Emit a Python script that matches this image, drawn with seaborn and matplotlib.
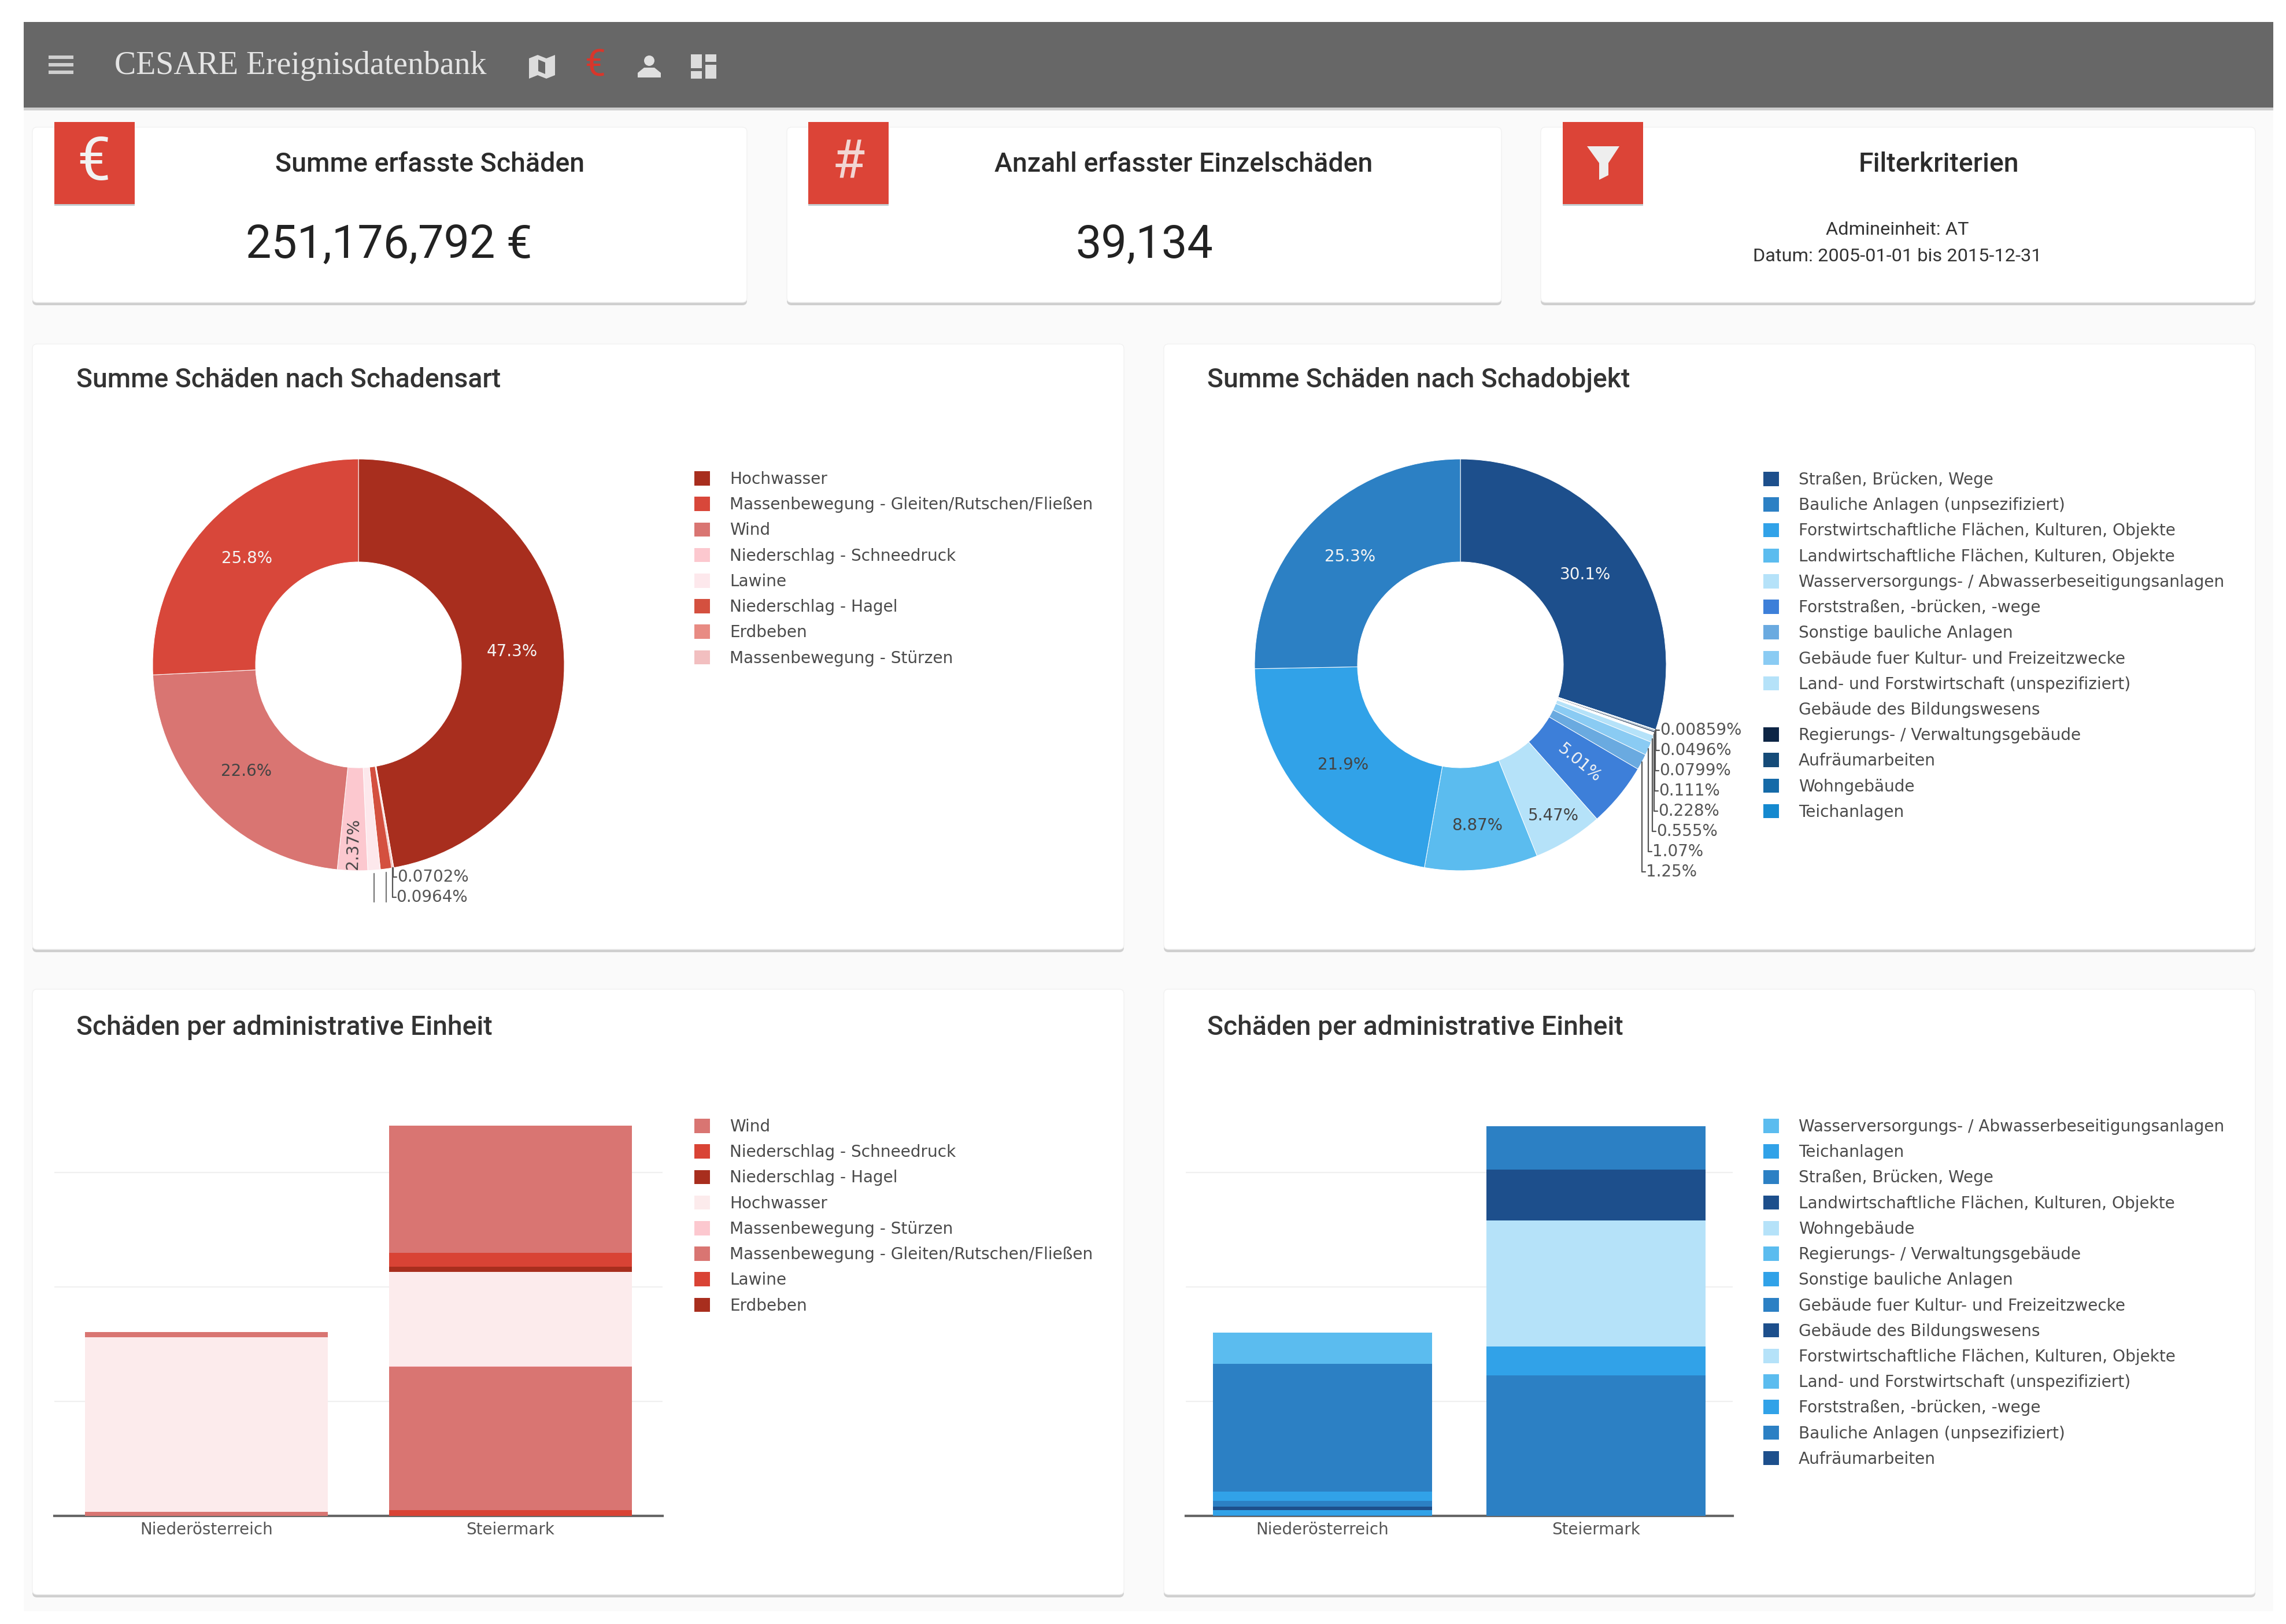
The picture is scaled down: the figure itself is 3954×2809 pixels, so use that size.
import matplotlib
matplotlib.use('Agg')
import matplotlib.pyplot as plt
from matplotlib.colors import to_rgb
from matplotlib.patches import FancyBboxPatch, Patch, Polygon, Rectangle, Circle
import numpy as np
import seaborn as sns

# damage type donut, clockwise order is built below
art_names = ['Hochwasser', 'Massenbewegung - Gleiten/Rutschen/Fließen', 'Wind', 'Niederschlag - Schneedruck',
             'Lawine', 'Niederschlag - Hagel', 'Erdbeben', 'Massenbewegung - Stürzen']
art_values = [47.3, 25.8, 22.6, 2.37, 0.98, 0.88, 0.0964, 0.0702]
art_colors = ['#a82e1e', '#d8473a', '#d97572', '#fcc8cf', '#fde8ec', '#d4503f', '#e88b83', '#f2bfc0']

# damaged object donut
objekt_names = ['Straßen, Brücken, Wege', 'Bauliche Anlagen (unpsezifiziert)',
                'Forstwirtschaftliche Flächen, Kulturen, Objekte', 'Landwirtschaftliche Flächen, Kulturen, Objekte',
                'Wasserversorgungs- / Abwasserbeseitigungsanlagen', 'Forststraßen, -brücken, -wege',
                'Sonstige bauliche Anlagen', 'Gebäude fuer Kultur- und Freizeitzwecke',
                'Land- und Forstwirtschaft (unspezifiziert)', 'Gebäude des Bildungswesens',
                'Regierungs- / Verwaltungsgebäude', 'Aufräumarbeiten', 'Wohngebäude', 'Teichanlagen']
objekt_values = [30.1, 25.3, 21.9, 8.87, 5.47, 5.01, 1.25, 1.07, 0.555, 0.228, 0.111, 0.0799, 0.0496, 0.00859]
objekt_colors = ['#1d4f8c', '#2c80c4', '#31a2e8', '#5bbcef', '#b5e2f9', '#3d7fd9', '#6aaae0', '#8acbf3',
                 '#b5e2f9', '#ffffff', '#0d2545', '#154b78', '#156aa8', '#1589cf']

regions = ['Niederösterreich', 'Steiermark']

# stacks in million euro, legend order (top of the stack first)
art_stack_names = ['Wind', 'Niederschlag - Schneedruck', 'Niederschlag - Hagel', 'Hochwasser',
                   'Massenbewegung - Stürzen', 'Massenbewegung - Gleiten/Rutschen/Fließen', 'Lawine', 'Erdbeben']
art_stack_noe = [2.05, 0, 0, 76.4, 0, 1.7, 0, 0]
art_stack_stmk = [55.6, 6.0, 2.2, 41.2, 0.2, 62.8, 2.4, 0]
art_stack_colors = ['#d97572', '#d94335', '#a82e1e', '#fcebec', '#fcc8cf', '#d97572', '#d94335', '#a82e1e']

objekt_stack_names = ['Wasserversorgungs- / Abwasserbeseitigungsanlagen', 'Teichanlagen', 'Straßen, Brücken, Wege',
                      'Landwirtschaftliche Flächen, Kulturen, Objekte', 'Wohngebäude',
                      'Regierungs- / Verwaltungsgebäude', 'Sonstige bauliche Anlagen',
                      'Gebäude fuer Kultur- und Freizeitzwecke', 'Gebäude des Bildungswesens',
                      'Forstwirtschaftliche Flächen, Kulturen, Objekte', 'Land- und Forstwirtschaft (unspezifiziert)',
                      'Forststraßen, -brücken, -wege', 'Bauliche Anlagen (unpsezifiziert)', 'Aufräumarbeiten']
objekt_stack_noe = [13.7, 0, 55.8, 0, 0, 0, 3.9, 2.6, 1.5, 0, 0, 2.2, 0.3, 0]
objekt_stack_stmk = [0, 0, 19.0, 22.3, 0, 0, 0, 0, 0, 54.9, 0, 12.6, 61.4, 0]
objekt_stack_colors = ['#5bbcef', '#31a2e8', '#2c80c4', '#1d4f8c', '#b5e2f9'] * 2 + ['#5bbcef', '#31a2e8', '#2c80c4', '#1d4f8c']

W, H = 3954, 2809
TEXT = '#4a4a4a'
RED = '#dc4437'
# narrow slices carry their label further out
LABEL_RADIUS = {2.37: 0.87, 5.47: 0.86, 8.87: 0.785}

sns.set_theme(style='white')
plt.rcParams['font.family'] = ['Roboto', 'DejaVu Sans']

fig = plt.figure(figsize=(W / 100, H / 100), dpi=100, facecolor='white')


def pixel_axes(x0, y0, x1, y1):
    ax = fig.add_axes([x0 / W, 1 - y1 / H, (x1 - x0) / W, (y1 - y0) / H])
    ax.patch.set_alpha(0)
    return ax


def card(page, x0, y0, x1, y1):
    page.add_patch(FancyBboxPatch((x0, y0 + 5), x1 - x0, y1 - y0, boxstyle='round,pad=0,rounding_size=8',
                                  fc='#cfcfcf', ec='none'))
    page.add_patch(FancyBboxPatch((x0, y0), x1 - x0, y1 - y0, boxstyle='round,pad=0,rounding_size=8',
                                  fc='white', ec='#f1f1f1', lw=1))


def draw_chrome(page):
    page.set_xlim(0, W)
    page.set_ylim(H, 0)
    page.axis('off')
    right = 3932
    page.add_patch(Rectangle((41, 38), right - 41, 2787 - 38, fc='#fafafa', ec='none'))
    page.add_patch(Rectangle((41, 186), right - 41, 5, fc='#cfcfcf', ec='none'))
    page.add_patch(Rectangle((41, 38), right - 41, 148, fc='#676767', ec='none'))

    # header icons
    for y in [99, 112, 125]:
        page.add_patch(Rectangle((84, y - 3), 43, 6, fc='#cfcfcf', ec='none'))
    page.text(198, 114, 'CESARE Ereignisdatenbank', family='Liberation Serif', fontsize=40.2, color='#e4e4e4',
              va='center', ha='left')
    page.add_patch(Polygon([(915, 101), (930, 95), (945, 101), (960, 95), (960, 130), (945, 136), (930, 130), (915, 136)],
                           fc='#dcdcdc', ec='none'))
    page.add_patch(Polygon([(931, 103), (943, 108), (943, 128), (931, 123)], fc='#676767', ec='none'))
    page.text(1029, 114, '€', fontsize=46, color='#d9362b', ha='center', va='center')
    page.add_patch(Circle((1123, 105), 9, fc='#e0e0e0', ec='none'))
    page.add_patch(Polygon([(1103, 134), (1103, 126), (1114, 117), (1132, 117), (1143, 126), (1143, 134)],
                           fc='#e0e0e0', ec='none'))
    for x, y, w, h in [(1195, 94, 19, 24), (1220, 94, 19, 13), (1195, 123, 19, 13), (1220, 112, 19, 24)]:
        page.add_patch(Rectangle((x, y), w, h, fc='#dcdcdc', ec='none'))

    # kpi cards
    for x0, x1 in [(56, 1292), (1361, 2597), (2665, 3901)]:
        card(page, x0, 220, x1, 523)
    for x0 in [94, 1398, 2703]:
        page.add_patch(Rectangle((x0, 214), 139, 142, fc='#c3cdd0', ec='none'))
        page.add_patch(Rectangle((x0, 211), 139, 142, fc=RED, ec='none'))
    page.text(162, 283, '€', fontsize=74, color='#f2f2f2', ha='center', va='center')
    page.text(1468, 283, '#', fontsize=66, color='#f2d6d3', ha='center', va='center')
    page.add_patch(Polygon([(2745, 253), (2801, 253), (2782, 282), (2782, 303), (2766, 311), (2766, 282)],
                           fc='#eeeeee', ec='none'))

    heads = [(743, 'Summe erfasste Schäden'), (2047, 'Anzahl erfasster Einzelschäden'), (3353, 'Filterkriterien')]
    for x, label in heads:
        page.text(x, 284, label, fontsize=33.5, fontweight='medium', color='#2b2b2b', ha='center', va='center')
    page.text(673, 424, '251,176,792 €', fontsize=57, color='#222222', ha='center', va='center')
    page.text(1979, 424, '39,134', fontsize=57, color='#222222', ha='center', va='center')
    page.text(3282, 398, 'Admineinheit: AT', fontsize=23.4, color='#333333', ha='center', va='center')
    page.text(3282, 444, 'Datum: 2005-01-01 bis 2015-12-31', fontsize=23.4, color='#333333', ha='center', va='center')

    # chart cards with titles
    for x0, x1 in [(56, 1944), (2013, 3901)]:
        card(page, x0, 595, x1, 1642)
        card(page, x0, 1711, x1, 2758)
    for x, y, label in [(132, 657, 'Summe Schäden nach Schadensart'), (2088, 657, 'Summe Schäden nach Schadobjekt'),
                        (132, 1777, 'Schäden per administrative Einheit'), (2088, 1777, 'Schäden per administrative Einheit')]:
        page.text(x, y, label, fontsize=33.4, fontweight='medium', color='#333333', ha='left', va='center')


def add_legend(ax, page, names, colors, x, y):
    handles = [Patch(fc=c, ec='none', label=n) for n, c in zip(names, colors)]
    ax.legend(handles=handles, loc='upper left', bbox_to_anchor=(x, y), bbox_transform=page.transData,
              frameon=False, borderpad=0, borderaxespad=0, handlelength=0.97, handleheight=0.97,
              handletextpad=1.2, labelspacing=0.578, labelcolor=TEXT, prop={'family': 'DejaVu Sans', 'size': 20.2})


def draw_donut(ax, values, colors, label_rows, first_row_px, cy, radius):
    # largest slice first, then the rest from small to large, clockwise from the top
    order = [0] + list(range(len(values) - 1, 0, -1))
    vals = [values[i] for i in order]
    cols = [colors[i] for i in order]
    wedges, _ = ax.pie(vals, colors=cols, startangle=90, counterclock=False, radius=1,
                       wedgeprops={'width': 0.5, 'edgecolor': 'white', 'linewidth': 0.7})
    ax.set_xlim(-1, 1)
    ax.set_ylim(-1, 1)
    for wedge, val in zip(wedges, vals):
        ang = np.deg2rad((wedge.theta1 + wedge.theta2) / 2)
        if val >= 2:
            ink = sum(np.array(to_rgb(wedge.get_facecolor()[:3])) * [0.299, 0.587, 0.114])
            rot = 0
            if val < 5.2:
                rot = np.rad2deg(ang)
                rot = rot + 180 if abs(rot) > 90 else rot
            r = LABEL_RADIUS.get(val, 0.75)
            ax.text(r * np.cos(ang), r * np.sin(ang), f'{val:.3g}%', fontsize=20, rotation=rot,
                    rotation_mode='anchor', family='DejaVu Sans', ha='center', va='center',
                    color='#f4f4f4' if ink < 0.49 else '#444444')
        else:
            wx, wy = np.cos(ang), np.sin(ang)
            labelled = val in label_rows
            idx = label_rows.index(val) if labelled else len(label_rows) - 1
            ly = (cy - (first_row_px + idx * 35)) / radius
            if labelled:
                hook = 6 / radius
                ax.plot([wx, wx, wx + hook], [wy, ly, ly], color='#555555', lw=1.6, clip_on=False, zorder=5)
                ax.text(wx + 7 / radius, ly, f'{val:.3g}%', fontsize=20, family='DejaVu Sans', color='#555555',
                        ha='left', va='center', clip_on=False)
            else:
                ax.plot([wx, wx], [wy - 6 / radius, ly - 8 / radius], color='#777777', lw=1.6, clip_on=False, zorder=5)


def draw_stack(ax, noe, stmk, colors):
    bottom = np.zeros(2)
    # legend lists the top of the stack first
    for a, b, c in list(zip(noe, stmk, colors))[::-1]:
        sns.barplot(x=regions, y=[a, b], bottom=bottom, color=c, saturation=1, width=0.8, linewidth=0,
                    errorbar=None, ax=ax, clip_on=False, zorder=2)
        bottom = bottom + np.array([a, b])
    ax.set_xlim(-0.5, 1.5)
    ax.set_ylim(0, 170.6)
    ax.set_yticks([50, 100, 150])
    ax.set_yticklabels([])
    ax.yaxis.grid(True, color='#f0f0f0', lw=1.6)
    ax.set_axisbelow(True)
    ax.tick_params(axis='both', length=0)
    ax.tick_params(axis='x', pad=7, labelsize=20, labelcolor='#555555')
    for lab in ax.get_xticklabels():
        lab.set_family('DejaVu Sans')
    for side in ['top', 'left', 'right']:
        ax.spines[side].set_visible(False)
    ax.spines['bottom'].set_color('#666666')
    ax.spines['bottom'].set_linewidth(3)
    ax.spines['bottom'].set_zorder(1)


def main():
    page = fig.add_axes([0, 0, 1, 1], zorder=0)
    draw_chrome(page)

    R = 356
    ax1 = pixel_axes(620 - R, 1150 - R, 620 + R, 1150 + R)
    draw_donut(ax1, art_values, art_colors, [0.0702, 0.0964], 1517, 1150, R)
    add_legend(ax1, page, art_names, art_colors, 1201, 815)

    ax2 = pixel_axes(2526 - R, 1150 - R, 2526 + R, 1150 + R)
    draw_donut(ax2, objekt_values, objekt_colors, objekt_values[:5:-1], 1263, 1150, R)
    add_legend(ax2, page, objekt_names, objekt_colors, 3050, 816)

    ax3 = pixel_axes(94, 1946, 1146, 2622)
    draw_stack(ax3, art_stack_noe, art_stack_stmk, art_stack_colors)
    add_legend(ax3, page, art_stack_names, art_stack_colors, 1201, 1935)

    ax4 = pixel_axes(2051, 1946, 2997, 2622)
    draw_stack(ax4, objekt_stack_noe, objekt_stack_stmk, objekt_stack_colors)
    add_legend(ax4, page, objekt_stack_names, objekt_stack_colors, 3050, 1935)

    fig.savefig('out.png', dpi=100)


if __name__ == "__main__":
    main()
